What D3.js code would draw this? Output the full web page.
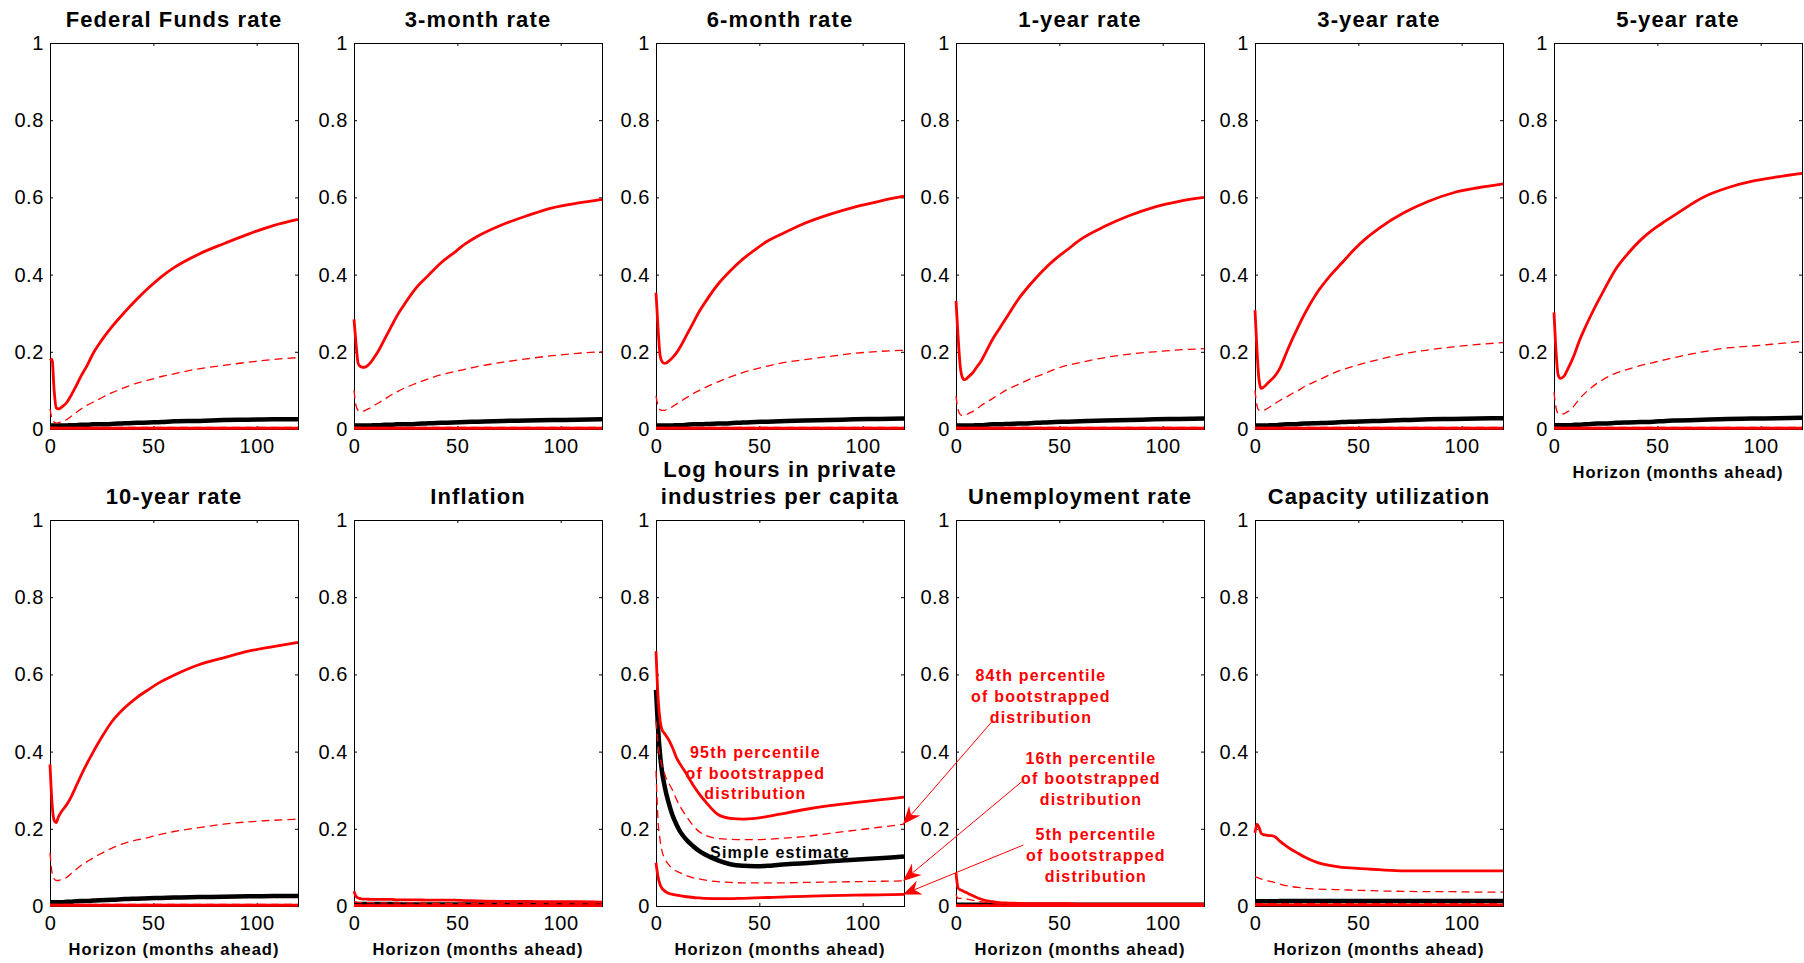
<!DOCTYPE html>
<html>
<head>
<meta charset="utf-8">
<script src="https://cdn.jsdelivr.net/npm/d3@7"></script>
<style>
  body { margin: 0; background: #fff; }
  svg { display: block; }
  text { font-family: "Liberation Sans", Arial, Helvetica, sans-serif; }
</style>
</head>
<body>
<svg id="chart" width="1804" height="963"></svg>
<script>
// Forecast horizons (months ahead) at which every series is recorded
const horizon = [0,1,2,3,4,5,6,8,10,12,15,18,21,24,30,36,42,48,54,60,72,84,96,108,120];
const yTickValues = [0, 0.2, 0.4, 0.6, 0.8, 1];
const xTickValues = [0, 50, 100];
const xAxisLabel = "Horizon (months ahead)";

// Federal Funds rate
const ff95  = [0.177,0.180,0.100,0.055,0.052,0.054,0.058,0.068,0.085,0.105,0.137,0.165,0.197,0.222,0.265,0.302,0.336,0.367,0.395,0.418,0.453,0.480,0.505,0.527,0.543];
const ff84  = [0.052,0.026,0.018,0.015,0.016,0.018,0.020,0.024,0.032,0.040,0.052,0.062,0.070,0.078,0.094,0.107,0.119,0.127,0.136,0.143,0.156,0.165,0.173,0.180,0.185];
const ffEst = [0.009,0.009,0.009,0.009,0.009,0.009,0.009,0.009,0.010,0.010,0.011,0.011,0.012,0.012,0.013,0.015,0.016,0.017,0.018,0.020,0.021,0.023,0.024,0.025,0.025];
const ff16  = [0.005,0.004,0.004,0.004,0.004,0.004,0.004,0.004,0.004,0.004,0.004,0.004,0.004,0.004,0.004,0.004,0.004,0.004,0.004,0.004,0.004,0.004,0.004,0.004,0.004];
const ff05  = [0.002,0.002,0.002,0.002,0.002,0.002,0.002,0.002,0.002,0.002,0.002,0.002,0.002,0.002,0.002,0.002,0.002,0.002,0.002,0.002,0.002,0.002,0.002,0.002,0.002];

// 3-month rate
const m3_95  = [0.284,0.220,0.170,0.162,0.160,0.160,0.162,0.172,0.187,0.204,0.235,0.265,0.295,0.320,0.365,0.398,0.430,0.455,0.480,0.500,0.530,0.553,0.573,0.585,0.595];
const m3_84  = [0.100,0.060,0.048,0.045,0.046,0.047,0.050,0.055,0.062,0.068,0.078,0.088,0.097,0.105,0.118,0.130,0.140,0.148,0.155,0.162,0.173,0.182,0.190,0.196,0.200];
const m3Est  = [0.009,0.009,0.009,0.009,0.009,0.009,0.009,0.009,0.010,0.010,0.011,0.011,0.012,0.012,0.013,0.015,0.016,0.017,0.018,0.019,0.021,0.022,0.023,0.024,0.025];
const m3_16  = [0.005,0.004,0.004,0.004,0.004,0.004,0.004,0.004,0.004,0.004,0.004,0.004,0.004,0.004,0.004,0.004,0.004,0.004,0.004,0.004,0.004,0.004,0.004,0.004,0.004];
const m3_05  = [0.002,0.002,0.002,0.002,0.002,0.002,0.002,0.002,0.002,0.002,0.002,0.002,0.002,0.002,0.002,0.002,0.002,0.002,0.002,0.002,0.002,0.002,0.002,0.002,0.002];

// 6-month rate
const m6_95  = [0.353,0.260,0.190,0.174,0.170,0.171,0.175,0.185,0.198,0.215,0.245,0.275,0.305,0.330,0.375,0.410,0.440,0.465,0.487,0.503,0.533,0.556,0.575,0.590,0.603];
const m6_84  = [0.085,0.060,0.050,0.048,0.048,0.050,0.052,0.058,0.065,0.072,0.082,0.092,0.100,0.108,0.122,0.135,0.146,0.155,0.163,0.170,0.180,0.188,0.196,0.201,0.204];
const m6Est  = [0.009,0.009,0.009,0.009,0.009,0.009,0.009,0.009,0.010,0.010,0.011,0.012,0.012,0.013,0.014,0.015,0.017,0.018,0.019,0.020,0.022,0.023,0.025,0.026,0.027];
const m6_16  = [0.005,0.004,0.004,0.004,0.004,0.004,0.004,0.004,0.004,0.004,0.004,0.004,0.004,0.004,0.004,0.004,0.004,0.004,0.004,0.004,0.004,0.004,0.004,0.004,0.004];
const m6_05  = [0.002,0.002,0.002,0.002,0.002,0.002,0.002,0.002,0.002,0.002,0.002,0.002,0.002,0.002,0.002,0.002,0.002,0.002,0.002,0.002,0.002,0.002,0.002,0.002,0.002];

// 1-year rate
const y1_95  = [0.332,0.240,0.165,0.135,0.128,0.130,0.135,0.145,0.160,0.175,0.205,0.235,0.260,0.285,0.335,0.375,0.410,0.440,0.465,0.490,0.525,0.553,0.575,0.590,0.600];
const y1_84  = [0.085,0.050,0.038,0.035,0.035,0.037,0.040,0.045,0.052,0.060,0.070,0.080,0.090,0.100,0.115,0.130,0.142,0.155,0.165,0.172,0.185,0.194,0.200,0.205,0.208];
const y1Est  = [0.009,0.009,0.009,0.009,0.009,0.009,0.009,0.009,0.010,0.010,0.011,0.012,0.012,0.013,0.014,0.015,0.017,0.018,0.019,0.020,0.022,0.023,0.025,0.026,0.027];
const y1_16  = [0.005,0.004,0.004,0.004,0.004,0.004,0.004,0.004,0.004,0.004,0.004,0.004,0.004,0.004,0.004,0.004,0.004,0.004,0.004,0.004,0.004,0.004,0.004,0.004,0.004];
const y1_05  = [0.002,0.002,0.002,0.002,0.002,0.002,0.002,0.002,0.002,0.002,0.002,0.002,0.002,0.002,0.002,0.002,0.002,0.002,0.002,0.002,0.002,0.002,0.002,0.002,0.002];

// 3-year rate
const y3_95  = [0.308,0.200,0.125,0.105,0.108,0.112,0.118,0.128,0.140,0.157,0.195,0.232,0.266,0.298,0.353,0.395,0.430,0.465,0.495,0.520,0.560,0.590,0.612,0.625,0.635];
const y3_84  = [0.100,0.060,0.048,0.047,0.048,0.050,0.053,0.060,0.067,0.074,0.082,0.092,0.100,0.110,0.125,0.140,0.153,0.163,0.172,0.180,0.195,0.205,0.213,0.219,0.224];
const y3Est  = [0.009,0.009,0.009,0.009,0.009,0.009,0.009,0.010,0.010,0.011,0.012,0.012,0.013,0.014,0.015,0.016,0.018,0.019,0.020,0.021,0.023,0.025,0.026,0.027,0.028];
const y3_16  = [0.005,0.004,0.004,0.004,0.004,0.004,0.004,0.004,0.004,0.004,0.004,0.004,0.004,0.004,0.004,0.004,0.004,0.004,0.004,0.004,0.004,0.004,0.004,0.004,0.004];
const y3_05  = [0.002,0.002,0.002,0.002,0.002,0.002,0.002,0.002,0.002,0.002,0.002,0.002,0.002,0.002,0.002,0.002,0.002,0.002,0.002,0.002,0.002,0.002,0.002,0.002,0.002];

// 5-year rate
const y5_95  = [0.302,0.200,0.140,0.131,0.133,0.138,0.148,0.170,0.195,0.225,0.262,0.296,0.328,0.358,0.415,0.456,0.490,0.517,0.539,0.560,0.600,0.625,0.642,0.653,0.662];
const y5_84  = [0.095,0.055,0.040,0.038,0.039,0.040,0.043,0.050,0.062,0.076,0.093,0.107,0.119,0.129,0.145,0.155,0.165,0.172,0.180,0.187,0.200,0.210,0.215,0.221,0.227];
const y5Est  = [0.010,0.010,0.010,0.010,0.010,0.010,0.010,0.010,0.011,0.011,0.012,0.013,0.014,0.014,0.016,0.017,0.018,0.019,0.021,0.022,0.024,0.026,0.027,0.028,0.029];
const y5_16  = [0.005,0.004,0.004,0.004,0.004,0.004,0.004,0.004,0.004,0.004,0.004,0.004,0.004,0.004,0.004,0.004,0.004,0.004,0.004,0.004,0.004,0.004,0.004,0.004,0.004];
const y5_05  = [0.002,0.002,0.002,0.002,0.002,0.002,0.002,0.002,0.002,0.002,0.002,0.002,0.002,0.002,0.002,0.002,0.002,0.002,0.002,0.002,0.002,0.002,0.002,0.002,0.002];

// 10-year rate
const y10_95 = [0.367,0.265,0.222,0.216,0.230,0.240,0.248,0.262,0.280,0.303,0.338,0.370,0.400,0.428,0.478,0.513,0.540,0.562,0.582,0.598,0.625,0.643,0.660,0.672,0.683];
const y10_84 = [0.138,0.086,0.070,0.066,0.066,0.068,0.070,0.074,0.083,0.092,0.105,0.115,0.125,0.134,0.150,0.162,0.171,0.178,0.186,0.193,0.203,0.212,0.218,0.222,0.225];
const y10Est = [0.010,0.010,0.010,0.010,0.010,0.010,0.010,0.011,0.011,0.012,0.013,0.013,0.014,0.015,0.016,0.018,0.019,0.020,0.021,0.022,0.023,0.024,0.025,0.026,0.026];
const y10_16 = [0.005,0.004,0.004,0.004,0.004,0.004,0.004,0.004,0.004,0.004,0.004,0.004,0.004,0.004,0.004,0.004,0.004,0.004,0.004,0.004,0.004,0.004,0.004,0.004,0.004];
const y10_05 = [0.002,0.002,0.002,0.002,0.002,0.002,0.002,0.002,0.002,0.002,0.002,0.002,0.002,0.002,0.002,0.002,0.002,0.002,0.002,0.002,0.002,0.002,0.002,0.002,0.002];

// Inflation
const inf95  = [0.038,0.025,0.021,0.019,0.018,0.018,0.018,0.017,0.017,0.017,0.017,0.017,0.016,0.016,0.016,0.015,0.015,0.015,0.014,0.013,0.012,0.012,0.011,0.011,0.010];
const inf84  = [0.012,0.010,0.009,0.009,0.009,0.009,0.009,0.009,0.008,0.008,0.008,0.008,0.008,0.008,0.008,0.007,0.007,0.007,0.007,0.007,0.006,0.006,0.006,0.006,0.006];
const infEst = [0.005,0.005,0.005,0.005,0.005,0.005,0.005,0.005,0.005,0.005,0.005,0.005,0.005,0.004,0.004,0.004,0.004,0.004,0.004,0.004,0.004,0.004,0.004,0.004,0.004];
const inf16  = [0.003,0.003,0.003,0.003,0.003,0.003,0.003,0.003,0.003,0.003,0.003,0.003,0.003,0.003,0.003,0.003,0.003,0.003,0.003,0.003,0.003,0.003,0.003,0.003,0.003];
const inf05  = [0.001,0.001,0.001,0.001,0.001,0.001,0.001,0.001,0.001,0.001,0.001,0.001,0.001,0.001,0.001,0.001,0.001,0.001,0.001,0.001,0.001,0.001,0.001,0.001,0.001];

// Log hours in private industries per capita
const lh95  = [0.660,0.540,0.480,0.455,0.448,0.440,0.432,0.410,0.383,0.365,0.340,0.313,0.290,0.270,0.237,0.227,0.225,0.227,0.232,0.238,0.250,0.260,0.268,0.275,0.282];
const lh84  = [0.480,0.420,0.385,0.360,0.345,0.330,0.320,0.300,0.275,0.255,0.230,0.208,0.192,0.183,0.175,0.173,0.172,0.172,0.173,0.175,0.180,0.188,0.196,0.204,0.212];
const lhEst = [0.560,0.460,0.390,0.345,0.315,0.290,0.270,0.235,0.210,0.190,0.170,0.155,0.142,0.133,0.118,0.108,0.104,0.103,0.104,0.107,0.111,0.116,0.120,0.124,0.128];
const lh16  = [0.350,0.220,0.170,0.140,0.125,0.115,0.108,0.097,0.090,0.085,0.078,0.073,0.070,0.067,0.063,0.061,0.060,0.060,0.060,0.060,0.061,0.062,0.063,0.064,0.065];
const lh05  = [0.112,0.075,0.055,0.045,0.040,0.036,0.033,0.030,0.028,0.026,0.024,0.022,0.021,0.020,0.019,0.019,0.020,0.021,0.022,0.023,0.025,0.027,0.028,0.029,0.030];

// Unemployment rate
const un95  = [0.086,0.047,0.042,0.040,0.037,0.035,0.032,0.027,0.022,0.018,0.013,0.011,0.009,0.008,0.007,0.006,0.006,0.006,0.006,0.005,0.005,0.005,0.005,0.005,0.005];
const un84  = [0.030,0.020,0.020,0.019,0.019,0.018,0.017,0.015,0.013,0.011,0.009,0.008,0.007,0.006,0.005,0.005,0.004,0.004,0.004,0.004,0.004,0.004,0.004,0.004,0.004];
const unEst = [0.003,0.003,0.003,0.003,0.003,0.003,0.003,0.003,0.003,0.003,0.003,0.003,0.003,0.003,0.003,0.003,0.003,0.003,0.003,0.003,0.003,0.003,0.003,0.003,0.003];
const un16  = [0.002,0.002,0.002,0.002,0.002,0.002,0.002,0.002,0.002,0.002,0.002,0.002,0.002,0.002,0.002,0.002,0.002,0.002,0.002,0.002,0.002,0.002,0.002,0.002,0.002];
const un05  = [0.001,0.001,0.001,0.001,0.001,0.001,0.001,0.001,0.001,0.001,0.001,0.001,0.001,0.001,0.001,0.001,0.001,0.001,0.001,0.001,0.001,0.001,0.001,0.001,0.001];

// Capacity utilization
const cu95  = [0.190,0.212,0.203,0.188,0.185,0.184,0.183,0.182,0.178,0.168,0.156,0.145,0.136,0.127,0.113,0.105,0.100,0.098,0.096,0.094,0.091,0.091,0.091,0.091,0.091];
const cu84  = [0.076,0.074,0.072,0.070,0.068,0.066,0.065,0.063,0.060,0.057,0.053,0.050,0.048,0.046,0.044,0.043,0.042,0.041,0.040,0.039,0.038,0.037,0.037,0.036,0.036];
const cuEst = [0.012,0.012,0.012,0.012,0.012,0.012,0.012,0.012,0.012,0.013,0.013,0.013,0.013,0.013,0.013,0.013,0.013,0.013,0.013,0.013,0.013,0.013,0.013,0.013,0.013];
const cu16  = [0.006,0.006,0.006,0.006,0.006,0.006,0.006,0.006,0.006,0.006,0.006,0.006,0.006,0.006,0.006,0.006,0.006,0.006,0.006,0.006,0.006,0.006,0.006,0.006,0.006];
const cu05  = [0.003,0.003,0.003,0.003,0.003,0.003,0.003,0.003,0.003,0.003,0.003,0.003,0.003,0.003,0.003,0.003,0.003,0.003,0.003,0.003,0.003,0.003,0.003,0.003,0.003];

// Panel table (title lines + series), in reading order
const panels = [
  { title: ["Federal Funds rate"], p95: ff95, p84: ff84, est: ffEst, p16: ff16, p05: ff05 },
  { title: ["3-month rate"], p95: m3_95, p84: m3_84, est: m3Est, p16: m3_16, p05: m3_05 },
  { title: ["6-month rate"], p95: m6_95, p84: m6_84, est: m6Est, p16: m6_16, p05: m6_05 },
  { title: ["1-year rate"], p95: y1_95, p84: y1_84, est: y1Est, p16: y1_16, p05: y1_05 },
  { title: ["3-year rate"], p95: y3_95, p84: y3_84, est: y3Est, p16: y3_16, p05: y3_05 },
  { title: ["5-year rate"], p95: y5_95, p84: y5_84, est: y5Est, p16: y5_16, p05: y5_05, xlabel: true },
  { title: ["10-year rate"], p95: y10_95, p84: y10_84, est: y10Est, p16: y10_16, p05: y10_05, xlabel: true },
  { title: ["Inflation"], p95: inf95, p84: inf84, est: infEst, p16: inf16, p05: inf05, xlabel: true },
  { title: ["Log hours in private", "industries per capita"], p95: lh95, p84: lh84, est: lhEst, p16: lh16, p05: lh05, xlabel: true },
  { title: ["Unemployment rate"], p95: un95, p84: un84, est: unEst, p16: un16, p05: un05, xlabel: true },
  { title: ["Capacity utilization"], p95: cu95, p84: cu84, est: cuEst, p16: cu16, p05: cu05, xlabel: true }
];

// Grid geometry
const colLeft = [50, 354, 656, 956, 1255, 1554];
const rowTop = [43, 520];
const plotW = 248, plotH = 386;
const RED = "#ff0000";

const svg = d3.select("#chart");
const scales = [];

panels.forEach((p, i) => {
  const row = i < 6 ? 0 : 1, col = i % 6;
  const left = colLeft[col], top = rowTop[row], bottom = top + plotH;
  const x = d3.scaleLinear().domain([0, 120]).range([left, left + plotW]);
  const y = d3.scaleLinear().domain([0, 1]).range([bottom, top]);
  scales.push({ x, y });

  const g = svg.append("g");

  // Axes box
  g.append("rect")
    .attr("x", left + 0.5).attr("y", top + 0.5)
    .attr("width", plotW).attr("height", plotH)
    .attr("fill", "none").attr("stroke", "#000").attr("stroke-width", 1);

  const styleAxis = sel => {
    sel.attr("font-size", null).attr("font-family", null);
    sel.select(".domain").remove();
    sel.selectAll("text")
      .style("font-size", "20px")
      .style("letter-spacing", "0.6px")
      .attr("fill", "#000");
  };

  g.append("g").attr("transform", `translate(${left},0)`)
    .call(d3.axisLeft(y).tickValues(yTickValues).tickFormat(d3.format("~g"))
      .tickSizeInner(-3).tickSizeOuter(0).tickPadding(6))
    .call(styleAxis);
  g.append("g").attr("transform", `translate(${left + plotW},0)`)
    .call(d3.axisRight(y).tickValues(yTickValues).tickFormat("")
      .tickSizeInner(-3).tickSizeOuter(0))
    .call(styleAxis);
  g.append("g").attr("transform", `translate(0,${top})`)
    .call(d3.axisTop(x).tickValues(xTickValues).tickFormat("")
      .tickSizeInner(-3).tickSizeOuter(0))
    .call(styleAxis);
  g.append("g").attr("transform", `translate(0,${bottom})`)
    .call(d3.axisBottom(x).tickValues(xTickValues).tickFormat(d3.format("d"))
      .tickSizeInner(-3).tickSizeOuter(0).tickPadding(10))
    .call(styleAxis);

  // Series lines
  const line = d3.line()
    .x((d, k) => x(horizon[k]))
    .y(d => y(d))
    .curve(d3.curveMonotoneX);

  const series = [
    { data: p.est, stroke: "#000", width: 4.5, dash: null },
    { data: p.p05, stroke: RED, width: 2.8, dash: null },
    { data: p.p16, stroke: RED, width: 1.3, dash: "8,5" },
    { data: p.p84, stroke: RED, width: 1.3, dash: "8,5" },
    { data: p.p95, stroke: RED, width: 2.8, dash: null }
  ];
  series.forEach(s => {
    g.append("path")
      .attr("d", line(s.data))
      .attr("fill", "none")
      .attr("stroke", s.stroke)
      .attr("stroke-width", s.width)
      .attr("stroke-dasharray", s.dash)
      .attr("stroke-linejoin", "round");
  });

  // Title
  const cx = left + plotW / 2;
  p.title.forEach((t, k) => {
    g.append("text")
      .attr("x", cx)
      .attr("y", top - 16 - 27 * (p.title.length - 1 - k))
      .attr("text-anchor", "middle")
      .style("font-size", "22px")
      .style("font-weight", "bold")
      .style("letter-spacing", "1.1px")
      .text(t);
  });

  // Horizon label
  if (p.xlabel) {
    g.append("text")
      .attr("x", cx)
      .attr("y", bottom + 49)
      .attr("text-anchor", "middle")
      .style("font-size", "16.5px")
      .style("font-weight", "bold")
      .style("letter-spacing", "1px")
      .text(xAxisLabel);
  }
});

// Annotations inside the "Log hours" panel (data coordinates of that panel)
const lhScale = scales[8];
const unScale = scales[9];
const lastIdx = horizon.length - 1;

const inPanelNotes = [
  { lines: ["95th percentile", "of bootstrapped", "distribution"], h: 48.1, v: 0.384, color: RED },
  { lines: ["Simple estimate"], h: 60, v: 0.124, color: "#000" }
];
inPanelNotes.forEach(n => {
  n.lines.forEach((t, k) => {
    svg.append("text")
      .attr("x", lhScale.x(n.h))
      .attr("y", lhScale.y(n.v) + 20.8 * k)
      .attr("text-anchor", "middle")
      .attr("fill", n.color)
      .style("font-size", "16px")
      .style("font-weight", "bold")
      .style("letter-spacing", "1.2px")
      .text(t);
  });
});

// Callouts placed over the "Unemployment rate" panel, pointing at the end of
// the 84th, 16th and 5th percentile lines of the "Log hours" panel
const callouts = [
  { lines: ["84th percentile", "of bootstrapped", "distribution"], h: 41.1, v: 0.583, tailH: 17.3, tailV: 0.477, target: lh84 },
  { lines: ["16th percentile", "of bootstrapped", "distribution"], h: 65.3, v: 0.369, tailH: 31.8, tailV: 0.322, target: lh16 },
  { lines: ["5th percentile", "of bootstrapped", "distribution"], h: 67.7, v: 0.171, tailH: 32.6, tailV: 0.158, target: lh05 }
];

callouts.forEach(c => {
  c.lines.forEach((t, k) => {
    svg.append("text")
      .attr("x", unScale.x(c.h))
      .attr("y", unScale.y(c.v) + 20.8 * k)
      .attr("text-anchor", "middle")
      .attr("fill", RED)
      .style("font-size", "16px")
      .style("font-weight", "bold")
      .style("letter-spacing", "1.2px")
      .text(t);
  });

  const tail = [unScale.x(c.tailH), unScale.y(c.tailV)];
  const tip = [lhScale.x(horizon[lastIdx]) - 1, lhScale.y(c.target[lastIdx])];
  const dx = tip[0] - tail[0], dy = tip[1] - tail[1];
  const len = Math.hypot(dx, dy);
  const ux = dx / len, uy = dy / len;
  const nx = -uy, ny = ux;
  const L = 18, W = 7.5, notch = 0.68 * L;

  svg.append("line")
    .attr("x1", tail[0]).attr("y1", tail[1])
    .attr("x2", tip[0] - notch * ux).attr("y2", tip[1] - notch * uy)
    .attr("stroke", RED).attr("stroke-width", 1);

  const head = [
    tip,
    [tip[0] - L * ux + W * nx, tip[1] - L * uy + W * ny],
    [tip[0] - notch * ux, tip[1] - notch * uy],
    [tip[0] - L * ux - W * nx, tip[1] - L * uy - W * ny]
  ];
  svg.append("path")
    .attr("d", "M" + head.map(pt => pt.join(",")).join("L") + "Z")
    .attr("fill", RED);
});
</script>
</body>
</html>
